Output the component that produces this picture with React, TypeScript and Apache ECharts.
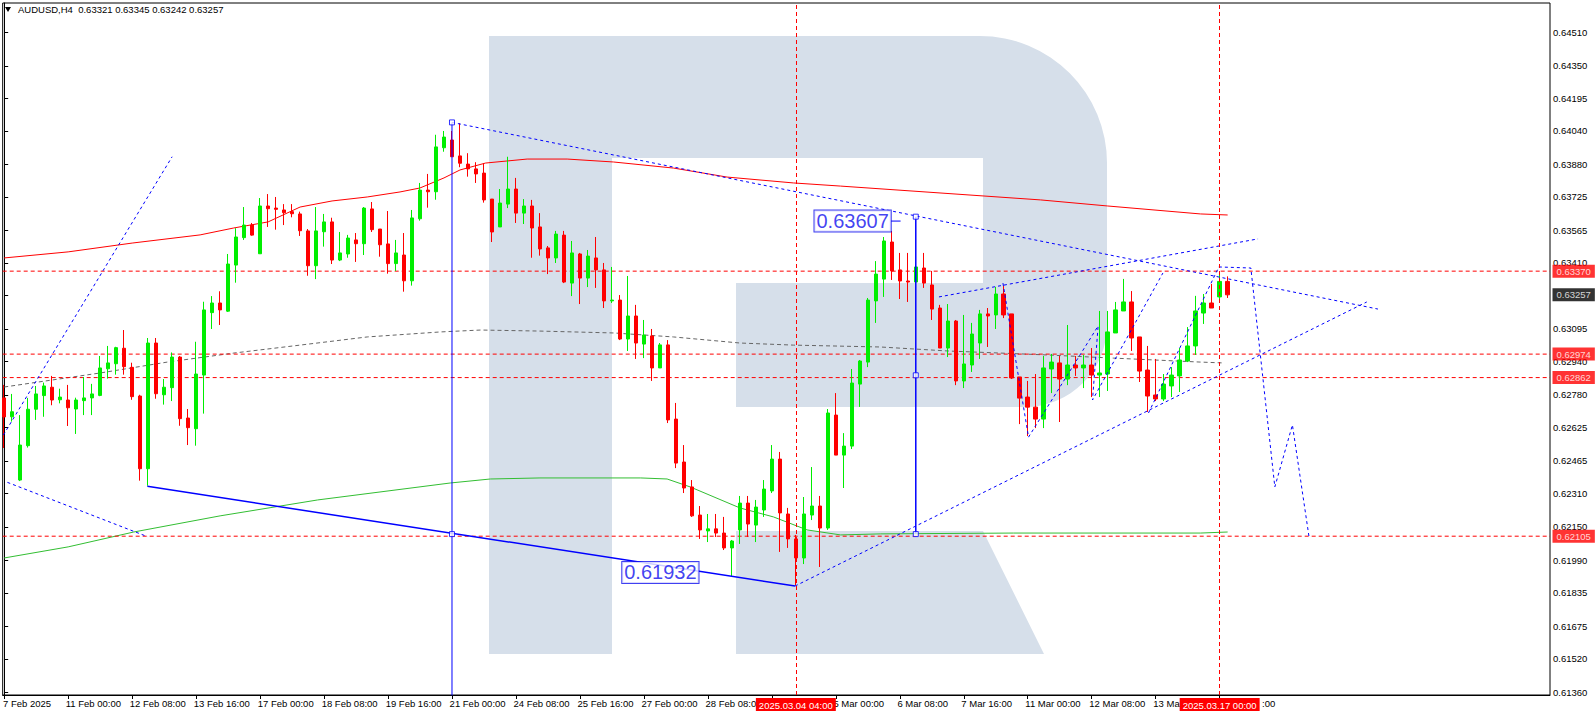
import React, { useEffect, useRef } from "react";
import * as echarts from "echarts";

const FONT = "'Liberation Sans', Arial, sans-serif";

const headerText = "AUDUSD,H4  0.63321 0.63345 0.63242 0.63257";

// [open, close, low, high] per H4 bar, bar 0 = 7 Feb 2025 16:00
const candles: number[][] = [
  [0.62765, 0.62674, 0.62526, 0.62827], [0.62675, 0.62699, 0.62652, 0.62784], [0.62373, 0.6254, 0.62368, 0.62683],
  [0.62537, 0.62711, 0.62528, 0.62765], [0.62711, 0.62784, 0.6266, 0.62822], [0.62776, 0.62822, 0.62675, 0.62838],
  [0.62816, 0.62755, 0.6273, 0.6287], [0.62756, 0.62769, 0.62739, 0.62809], [0.62755, 0.62718, 0.62631, 0.62827],
  [0.62712, 0.62755, 0.62593, 0.62766], [0.62752, 0.62765, 0.62683, 0.62865], [0.62765, 0.62784, 0.62683, 0.62832],
  [0.62777, 0.62908, 0.62773, 0.62965], [0.62904, 0.62932, 0.62857, 0.63013], [0.62928, 0.63005, 0.62876, 0.63009],
  [0.63002, 0.62914, 0.62876, 0.63089], [0.62911, 0.62771, 0.62756, 0.62933], [0.62774, 0.62427, 0.6237, 0.6278],
  [0.62427, 0.63027, 0.62346, 0.63051], [0.63027, 0.62785, 0.62761, 0.63051], [0.6278, 0.62816, 0.62733, 0.62855],
  [0.62814, 0.6296, 0.6275, 0.62982], [0.6296, 0.62666, 0.62632, 0.62965], [0.62669, 0.62623, 0.6254, 0.62712],
  [0.62618, 0.62879, 0.62537, 0.63033], [0.62874, 0.63185, 0.6269, 0.63224], [0.63172, 0.63218, 0.63094, 0.63251],
  [0.63218, 0.63185, 0.63113, 0.63274], [0.63179, 0.63404, 0.63175, 0.63452], [0.63399, 0.63533, 0.63315, 0.63575],
  [0.6353, 0.6359, 0.63519, 0.63676], [0.6359, 0.63542, 0.63539, 0.636], [0.63453, 0.63681, 0.63453, 0.63719],
  [0.63681, 0.63668, 0.63581, 0.63738], [0.63671, 0.63665, 0.63568, 0.63724], [0.63662, 0.63649, 0.6359, 0.6369],
  [0.63654, 0.63644, 0.63627, 0.6369], [0.63643, 0.63563, 0.63538, 0.63654], [0.63562, 0.63396, 0.63348, 0.63571],
  [0.63396, 0.63562, 0.63332, 0.63676], [0.63558, 0.63605, 0.63487, 0.63643], [0.63605, 0.63423, 0.63404, 0.63625],
  [0.63423, 0.63457, 0.63418, 0.63557], [0.63452, 0.63528, 0.63434, 0.63543], [0.63519, 0.63501, 0.63414, 0.63552],
  [0.63501, 0.63671, 0.63447, 0.63676], [0.63667, 0.63568, 0.63557, 0.637], [0.63571, 0.63496, 0.63439, 0.63571],
  [0.635, 0.63406, 0.63358, 0.63657], [0.63406, 0.63457, 0.63371, 0.63519], [0.63447, 0.63324, 0.63272, 0.63552],
  [0.63324, 0.63624, 0.63301, 0.63662], [0.6362, 0.63757, 0.63611, 0.63791], [0.63757, 0.63749, 0.63673, 0.63834],
  [0.63749, 0.63963, 0.63711, 0.64021], [0.63959, 0.6401, 0.6394, 0.64039], [0.63996, 0.63916, 0.63915, 0.64039],
  [0.6392, 0.63885, 0.63866, 0.64076], [0.63881, 0.63858, 0.63821, 0.63933], [0.63858, 0.63834, 0.63791, 0.6389],
  [0.63838, 0.6371, 0.63697, 0.63885], [0.63714, 0.63557, 0.63509, 0.63714], [0.63581, 0.63695, 0.63581, 0.63762],
  [0.6369, 0.63762, 0.63671, 0.63916], [0.63762, 0.63647, 0.636, 0.63815], [0.63647, 0.63681, 0.63595, 0.63714],
  [0.63681, 0.63576, 0.63434, 0.6371], [0.63581, 0.63476, 0.63444, 0.63647], [0.63481, 0.63433, 0.63356, 0.6349],
  [0.63433, 0.63547, 0.63409, 0.63562], [0.63542, 0.63318, 0.63313, 0.63562], [0.63313, 0.63457, 0.63251, 0.63514],
  [0.63452, 0.63337, 0.63213, 0.63457], [0.63337, 0.63442, 0.63294, 0.63471], [0.63433, 0.63376, 0.6329, 0.63533],
  [0.63376, 0.63228, 0.63194, 0.63409], [0.63228, 0.63232, 0.63218, 0.6339], [0.63232, 0.63046, 0.63041, 0.63256],
  [0.63046, 0.63156, 0.62989, 0.63347], [0.63156, 0.63027, 0.62951, 0.63209], [0.63022, 0.63065, 0.62955, 0.63137],
  [0.63061, 0.62908, 0.62846, 0.63094], [0.62908, 0.63018, 0.62908, 0.63027], [0.63018, 0.6266, 0.62645, 0.63041],
  [0.62664, 0.62454, 0.6243, 0.62741], [0.62459, 0.62335, 0.62311, 0.6254], [0.6234, 0.62202, 0.62197, 0.62373],
  [0.62206, 0.62135, 0.62092, 0.62249], [0.6213, 0.6214, 0.62077, 0.62211], [0.6214, 0.6212, 0.62101, 0.62211],
  [0.6212, 0.62049, 0.62039, 0.62197], [0.62049, 0.62082, 0.61915, 0.62087], [0.62135, 0.62263, 0.62068, 0.62297],
  [0.62263, 0.62163, 0.62101, 0.62297], [0.62158, 0.62244, 0.62077, 0.62278], [0.6223, 0.6233, 0.62197, 0.62373],
  [0.62321, 0.62473, 0.62311, 0.6254], [0.62473, 0.62216, 0.6203, 0.62507], [0.62211, 0.62092, 0.62049, 0.6224],
  [0.62092, 0.62001, 0.6187, 0.62111], [0.62001, 0.62211, 0.61972, 0.62292], [0.62206, 0.62249, 0.62182, 0.62435],
  [0.62249, 0.62144, 0.61958, 0.62297], [0.62144, 0.62693, 0.62135, 0.62712], [0.62683, 0.62492, 0.62492, 0.62788],
  [0.62492, 0.62535, 0.62335, 0.62597], [0.62535, 0.62836, 0.62521, 0.62903], [0.62831, 0.62941, 0.62722, 0.62946],
  [0.62936, 0.63232, 0.62912, 0.63242], [0.63228, 0.63356, 0.63123, 0.63418], [0.63332, 0.63514, 0.63247, 0.63533],
  [0.63509, 0.63371, 0.63328, 0.63562], [0.63376, 0.63323, 0.63237, 0.63457], [0.63323, 0.63318, 0.63223, 0.63457],
  [0.63318, 0.6339, 0.63309, 0.63399], [0.63385, 0.63313, 0.6329, 0.63457], [0.63304, 0.63189, 0.63137, 0.63371],
  [0.63194, 0.63003, 0.63003, 0.63209], [0.63003, 0.63132, 0.6296, 0.63213], [0.63132, 0.62846, 0.62826, 0.63137],
  [0.62846, 0.62927, 0.62812, 0.63161], [0.62922, 0.6307, 0.62889, 0.63123], [0.63027, 0.63166, 0.62951, 0.63185],
  [0.63166, 0.63156, 0.63008, 0.63194], [0.63161, 0.63261, 0.63094, 0.63295], [0.63261, 0.63161, 0.63146, 0.63299],
  [0.63166, 0.6286, 0.62855, 0.63166], [0.62865, 0.62764, 0.6264, 0.62865], [0.62769, 0.62721, 0.62583, 0.62846],
  [0.62721, 0.62664, 0.62621, 0.62879], [0.62664, 0.62908, 0.62621, 0.62965], [0.62903, 0.62936, 0.62788, 0.62975],
  [0.62932, 0.62855, 0.6265, 0.62965], [0.62855, 0.62922, 0.62826, 0.63113], [0.62922, 0.62908, 0.6287, 0.62965],
  [0.62908, 0.62922, 0.62812, 0.6297], [0.62922, 0.62874, 0.62769, 0.63003], [0.62874, 0.62884, 0.62769, 0.6318],
  [0.62879, 0.6308, 0.62798, 0.6318], [0.63075, 0.63185, 0.63075, 0.63223], [0.6318, 0.63223, 0.6318, 0.63333],
  [0.63223, 0.63051, 0.62989, 0.63275], [0.63056, 0.62893, 0.62841, 0.63056], [0.62898, 0.62774, 0.62698, 0.63013],
  [0.62779, 0.6276, 0.6275, 0.62951], [0.6276, 0.62831, 0.6275, 0.62879], [0.62822, 0.62874, 0.62769, 0.62912],
  [0.6287, 0.62946, 0.62793, 0.63003], [0.62941, 0.63013, 0.62936, 0.63103], [0.63013, 0.6318, 0.6297, 0.63252],
  [0.6317, 0.63218, 0.63118, 0.63261], [0.63218, 0.63194, 0.63194, 0.63309], [0.63247, 0.63321, 0.63218, 0.63366],
  [0.63321, 0.63257, 0.63242, 0.63345],
];

// visible time labels (bar index -> text); labels hidden under the red time tags are cut to what shows
const timeTickIndex = [0, 8, 16, 24, 32, 40, 48, 56, 64, 72, 80, 88, 104, 112, 120, 128, 136, 144, 152];
const timeTickText = [
  "7 Feb 2025", "11 Feb 00:00", "12 Feb 08:00", "13 Feb 16:00", "17 Feb 00:00", "18 Feb 08:00",
  "19 Feb 16:00", "21 Feb 00:00", "24 Feb 08:00", "25 Feb 16:00", "27 Feb 00:00", "28 Feb 08:00",
  "5 Mar 00:00", "6 Mar 08:00", "7 Mar 16:00", "11 Mar 00:00", "12 Mar 08:00",
  "13 Ma", ":00",
];
const timeTickMarks = [0, 8, 16, 24, 32, 40, 48, 56, 64, 72, 80, 88, 96, 104, 112, 120, 128, 136, 144, 152];

const priceTicks = [
  0.6451, 0.6435, 0.64195, 0.6404, 0.6388, 0.63725, 0.63565, 0.6341, 0.63095, 0.6294,
  0.6278, 0.62625, 0.62465, 0.6231, 0.6215, 0.6199, 0.61835, 0.61675, 0.6152, 0.6136,
];
const hiddenPriceTick = 0.63255;

const levelPrices = [0.6337, 0.62974, 0.62862, 0.62105];
const bidPrice = 0.63257;
const crossIndex = [99, 152];
const crossText = ["2025.03.04 04:00", "2025.03.17 00:00"];

const maRed = [
  [0, 0.63433], [8, 0.63462], [16, 0.63504], [24.5, 0.63543], [28.7, 0.63576], [33, 0.63605],
  [37, 0.63676], [41, 0.63705], [45.4, 0.63724], [49.5, 0.63748], [52, 0.63767], [55, 0.63815],
  [57, 0.63853], [60.2, 0.63886], [65.4, 0.63905], [70.4, 0.63905], [76.2, 0.63891], [83.7, 0.63862],
  [90.4, 0.63819], [98.7, 0.63791], [104.6, 0.63776], [129.6, 0.6371], [138, 0.63681], [149.6, 0.63643],
  [153, 0.63638],
];
const maGray = [
  [0, 0.62817], [12, 0.62884], [20.4, 0.62936], [28.7, 0.62979], [37, 0.63017], [45.4, 0.63056],
  [54.6, 0.6308], [59.6, 0.63089], [67, 0.63084], [76.2, 0.63075], [83.7, 0.63056], [92, 0.63027],
  [98.7, 0.63017], [109.6, 0.63008], [118, 0.62989], [124.6, 0.62979], [130.4, 0.6297], [138.7, 0.62955],
  [149.6, 0.62936], [152.4, 0.62932],
];
const maGreen = [
  [0, 0.62001], [8, 0.62054], [16.2, 0.62125], [27, 0.62202], [39.2, 0.62278], [55.8, 0.62359],
  [60.8, 0.62378], [67, 0.62383], [79.6, 0.62383], [82.9, 0.62378], [85.8, 0.6234], [92, 0.6224],
  [96.2, 0.62197], [100.4, 0.62135], [104.6, 0.62111], [109.6, 0.62116], [126.2, 0.6212], [149.6, 0.6212],
  [153, 0.62125],
];

const trendUpLeft = [[-0.1, 0.62588], [21, 0.63916]];
const trendDownLeft = [[0.4, 0.62362], [17.9, 0.62103]];
const trendSolid = [[17.9, 0.62343], [98.9, 0.61867]];
const trendTopDown = [[56, 0.6408], [171.8, 0.63189]];
const trendBottomUp = [[98.9, 0.61867], [170.4, 0.63223]];
const channelTop = [[116.9, 0.63247], [156.8, 0.63524]];
const zigzagA = [[124.9, 0.63313], [128.1, 0.62578], [136.8, 0.63108], [136.1, 0.62755], [144.9, 0.63361]];
const zigzagB = [[143.1, 0.62693], [151.9, 0.6339]];
const forecast = [[151.9, 0.6339], [155.9, 0.63385], [158.9, 0.6234], [161.1, 0.62636], [163.2, 0.62096]];
const verticalA = [[56, 0.6408], [56, 0.61]];
const verticalB = [[114, 0.6363], [114, 0.62115]];
const tailB = [[110.9, 0.63609], [112.1, 0.63609]];
const anchorPoints = [[56, 0.6408], [56, 0.62115], [114, 0.6363], [114, 0.62873], [114, 0.62115]];
const priceBoxes = [
  { idx: 106.1, price: 0.63609, text: "0.63607" },
  { idx: 82.06, price: 0.61932, text: "0.61932" },
];

const LOGO_D =
  "M489 36 L980 36 A127 127 0 0 1 1107 163 L1107 325 A82 82 0 0 1 1025 407 L736 407 L736 283 L983 283 L983 158 L612 158 L612 654 L489 654 Z " +
  "M736 531 L983 531 L1044 654 L736 654 Z";

const X_MIN = -0.1875;
const X_MAX = 193.3125;
const Y_MIN = 0.6134704;
const Y_MAX = 0.6464984;
const LABEL_SHIFT = 0.3;

// where each time label's left edge sits, in bar units
const timeLabelPos = timeTickIndex.map((v, k) =>
  k === 0 ? -0.15 : timeTickText[k] === ":00" ? v + 5.3 : v - LABEL_SHIFT
);

function line(data: number[][], color: string, width: number, type: any, z = 3) {
  return {
    type: "line",
    data,
    showSymbol: false,
    symbol: "none",
    silent: true,
    z,
    lineStyle: { color, width, type },
    animation: false,
  };
}

export default function App() {
  const ref = useRef<HTMLDivElement>(null);
  useEffect(() => {
    if (!ref.current) return;
    try {
      echarts.graphic.registerShape("rlogo", echarts.graphic.extendPath(LOGO_D, {}) as any);
    } catch (e) {}
    const chart = echarts.init(ref.current, null, { renderer: "svg" });
    const lbl = { fontFamily: FONT, fontSize: 9.5 };
    const tagLabel = (text: string, bg: string) => ({
      show: true,
      position: "right",
      distance: 2,
      formatter: text,
      backgroundColor: bg,
      color: "#fff",
      padding: [2, 4, 1, 4],
      ...lbl,
    });
    const option: any = {
      animation: false,
      grid: { left: 2, top: 3, right: 46, bottom: 21, show: true, borderColor: "#000", borderWidth: 1, backgroundColor: "transparent" },
      xAxis: {
        type: "value",
        min: X_MIN,
        max: X_MAX,
        splitLine: { show: false },
        axisLine: { show: true, lineStyle: { color: "#000" } },
        axisTick: { show: true, customValues: timeTickMarks, length: 4, lineStyle: { color: "#000" } },
        axisLabel: {
          show: true,
          customValues: timeLabelPos,
          formatter: (v: number) => {
            let best = -1;
            let d = 1e9;
            timeLabelPos.forEach((p, k) => {
              if (Math.abs(p - v) < d) {
                d = Math.abs(p - v);
                best = k;
              }
            });
            return best >= 0 && d < 0.05 ? timeTickText[best] : "";
          },
          align: "left",
          margin: 3,
          color: "#000",
          ...lbl,
        },
      },
      yAxis: {
        type: "value",
        position: "right",
        min: Y_MIN,
        max: Y_MAX,
        splitLine: { show: false },
        axisLine: { show: true, lineStyle: { color: "#000" } },
        axisTick: { show: true, customValues: [...priceTicks, hiddenPriceTick], length: 4, lineStyle: { color: "#000" } },
        axisLabel: {
          show: true,
          customValues: priceTicks,
          formatter: (v: number) => v.toFixed(5),
          margin: 3,
          color: "#000",
          ...lbl,
        },
      },
      graphic: {
        elements: [
          { type: "rlogo", x: 0, y: 0, z: -1, silent: true, style: { fill: "#d6dfea" } },
          { type: "polygon", z: 10, shape: { points: [[5, 7], [11, 7], [8, 12]] }, style: { fill: "#000" } },
          { type: "text", x: 18, y: 4, z: 10, style: { text: headerText, fill: "#000", font: "9.5px 'Liberation Sans', Arial, sans-serif" } },
        ],
      },
      series: [
        line(maGreen, "#32be32", 1, "solid", 2),
        line(maGray, "#666666", 1, [4, 3], 2),
        line(maRed, "#ff0000", 1, "solid", 2),
        ...levelPrices.map((p) => line([[X_MIN, p], [X_MAX, p]], "#ff0000", 1, [4, 3], 2)),
        {
          type: "candlestick",
          data: candles.map((c, i) => [i, c[0], c[1], c[2], c[3]]),
          barWidth: 4,
          z: 3,
          silent: true,
          animation: false,
          itemStyle: { color: "#00ee00", color0: "#ff0000", borderColor: "#00ee00", borderColor0: "#ff0000", borderWidth: 1 },
          markLine: {
            silent: true,
            symbol: ["none", "none"],
            animation: false,
            data: crossIndex.map((ix, k) => ({
              xAxis: ix,
              lineStyle: { color: "#ff0000", type: [4, 3], width: 1 },
              label: { show: true, position: "start", formatter: crossText[k], backgroundColor: "#ff0000", color: "#fff", padding: [2, 3, 1, 3], distance: 3, ...lbl },
            })),
          },
        },
        line(trendUpLeft, "#0000ff", 1, [3, 3], 4),
        line(trendDownLeft, "#0000ff", 1, [3, 3], 4),
        line(trendSolid, "#0000ff", 1.5, "solid", 4),
        line(trendTopDown, "#0000ff", 1, [3, 3], 4),
        line(trendBottomUp, "#0000ff", 1, [3, 3], 4),
        line(channelTop, "#0000ff", 1, [3, 3], 4),
        line(zigzagA, "#0000ff", 1, [3, 3], 4),
        line(zigzagB, "#0000ff", 1, [3, 3], 4),
        line(forecast, "#0000ff", 1, [3, 3], 4),
        line(verticalA, "#0000ff", 1, "solid", 4),
        line(verticalB, "#0000ff", 1.5, "solid", 4),
        line(tailB, "#0000ff", 1, "solid", 4),
        {
          type: "scatter",
          data: anchorPoints,
          symbol: "rect",
          symbolSize: 5,
          z: 5,
          silent: true,
          itemStyle: { color: "#fff", borderColor: "#0000ff", borderWidth: 1 },
        },
        {
          type: "scatter",
          data: priceBoxes.map((b) => ({ value: [b.idx, b.price], label: { formatter: b.text } })),
          symbol: "circle",
          symbolSize: 1,
          z: 6,
          silent: true,
          itemStyle: { color: "rgba(255,255,255,0)" },
          label: {
            show: true,
            position: "inside",
            color: "#1010ee",
            fontSize: 20,
            fontFamily: FONT,
            backgroundColor: "#fff",
            borderColor: "#1010ee",
            borderWidth: 1,
            padding: [1, 2, 0, 2],
          },
        },
        {
          type: "scatter",
          clip: false,
          z: 8,
          silent: true,
          symbol: "circle",
          symbolSize: 1,
          itemStyle: { color: "rgba(255,255,255,0)" },
          data: [
            ...levelPrices.map((p) => ({ value: [X_MAX, p], label: tagLabel(p.toFixed(5), "#ff0000") })),
            { value: [X_MAX, bidPrice], label: tagLabel(bidPrice.toFixed(5), "#000000") },
          ],
        },
      ],
    };
    chart.setOption(option);
    return () => chart.dispose();
  }, []);
  return <div ref={ref} style={{ position: "fixed", left: 0, top: 0, width: 1596, height: 716, background: "#fff" }} />;
}
